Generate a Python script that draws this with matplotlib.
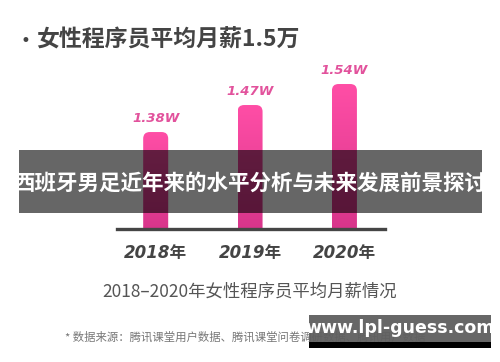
import numpy as np
import matplotlib
matplotlib.use("Agg")
import matplotlib.pyplot as plt
from matplotlib.patches import FancyBboxPatch, Rectangle
from matplotlib.colors import LinearSegmentedColormap

plt.rcParams['font.family'] = ['Noto Sans CJK SC', 'DejaVu Sans']

# 数据
years = ['2018年', '2019年', '2020年']
salary = [1.38, 1.47, 1.54]          # 单位：万
value_labels = ['1.38W', '1.47W', '1.54W']

title = '女性程序员平均月薪1.5万'
subtitle = '2018–2020年女性程序员平均月薪情况'
source = '* 数据来源：腾讯课堂用户数据、腾讯课堂问卷调研数据、腾讯用户数据'
banner = '西班牙男足近年来的水平分析与未来发展前景探讨'
watermark = 'www.lpl-guess.com'

W, H = 500, 362
fig = plt.figure(figsize=(W / 100, H / 100), dpi=100)
fig.patch.set_facecolor('white')


def px(x, y):
    """ 像素坐标 -> figure 坐标 """
    return x / W, 1 - y / H


# 柱状图区域：基线 y=229px，x 117~385px
ymin, ymax = 1.057, 1.62
ax = fig.add_axes([117 / W, 1 - 229 / H, 268 / W, (229 - 60) / H])
for s in ['top', 'right', 'left']:
    ax.spines[s].set_visible(False)
ax.spines['bottom'].set_color('#454545')
ax.spines['bottom'].set_linewidth(2.4)
ax.spines['bottom'].set_zorder(5)
ax.set_yticks([])
ax.set_xticks([])
ax.patch.set_alpha(0)

cmap = LinearSegmentedColormap.from_list('pink', ['#d8358b', '#ff4ea6'])
bar_w = 0.265
grad = np.linspace(0, 1, 256).reshape(-1, 1)
for i, v in enumerate(salary):
    x0 = i - bar_w / 2
    patch = FancyBboxPatch((x0, ymin - 0.05), bar_w, v - ymin + 0.05,
                           boxstyle='round,pad=0,rounding_size=0.07',
                           mutation_aspect=0.315, facecolor='none',
                           edgecolor='none')
    ax.add_patch(patch)
    im = ax.imshow(grad, cmap=cmap, aspect='auto', origin='lower',
                   extent=[x0, x0 + bar_w, ymin, v], zorder=2)
    im.set_clip_path(patch)
    ax.text(i, v + 0.025, value_labels[i], ha='center', va='bottom',
            fontsize=9.5, fontweight='bold', style='italic',
            color='#e2529c', family='DejaVu Sans')
    fig.text(*px(155.5 + i * 94.5, 253), years[i], ha='center', va='center',
             fontsize=12, fontweight='bold', style='italic', color='#444444',
             family=['DejaVu Sans', 'Noto Sans CJK SC'])
ax.set_xlim(-0.41, 2.43)
ax.set_ylim(ymin, ymax)

# 标题
fig.text(*px(25, 41), '•', ha='center', va='center', fontsize=12,
         color='#444444', family='DejaVu Sans')
fig.text(*px(36, 40), title, ha='left', va='center', fontsize=16.5,
         fontweight='bold', style='italic', color='#444444',
         family=['Noto Sans CJK SC', 'DejaVu Sans'])

# 副标题和来源
fig.text(*px(250, 292), subtitle, ha='center', va='center', fontsize=12.5,
         color='#555555')
fig.text(*px(65, 337), source, ha='left', va='center', fontsize=8.2,
         color='#777777')

# 遮挡横幅
fig.patches.append(Rectangle(px(19, 213), 463 / W, 63 / H, transform=fig.transFigure,
                             facecolor='black', alpha=0.6, zorder=10))
fig.text(*px(250, 183), banner, ha='center', va='center', fontsize=15.5,
         fontweight='bold', color='white', zorder=11)

# 水印
fig.patches.append(Rectangle(px(309, 342), 182 / W, 27 / H, transform=fig.transFigure,
                             facecolor='#5f5f5f', alpha=0.95, zorder=10))
fig.patches.append(Rectangle(px(309, 348), 182 / W, 6 / H, transform=fig.transFigure,
                             facecolor='black', zorder=10))
fig.text(*px(400, 328), watermark, ha='center', va='center', fontsize=12.5,
         fontweight='bold', color='white', family='DejaVu Sans', zorder=11)

fig.savefig('out.png', dpi=100)
